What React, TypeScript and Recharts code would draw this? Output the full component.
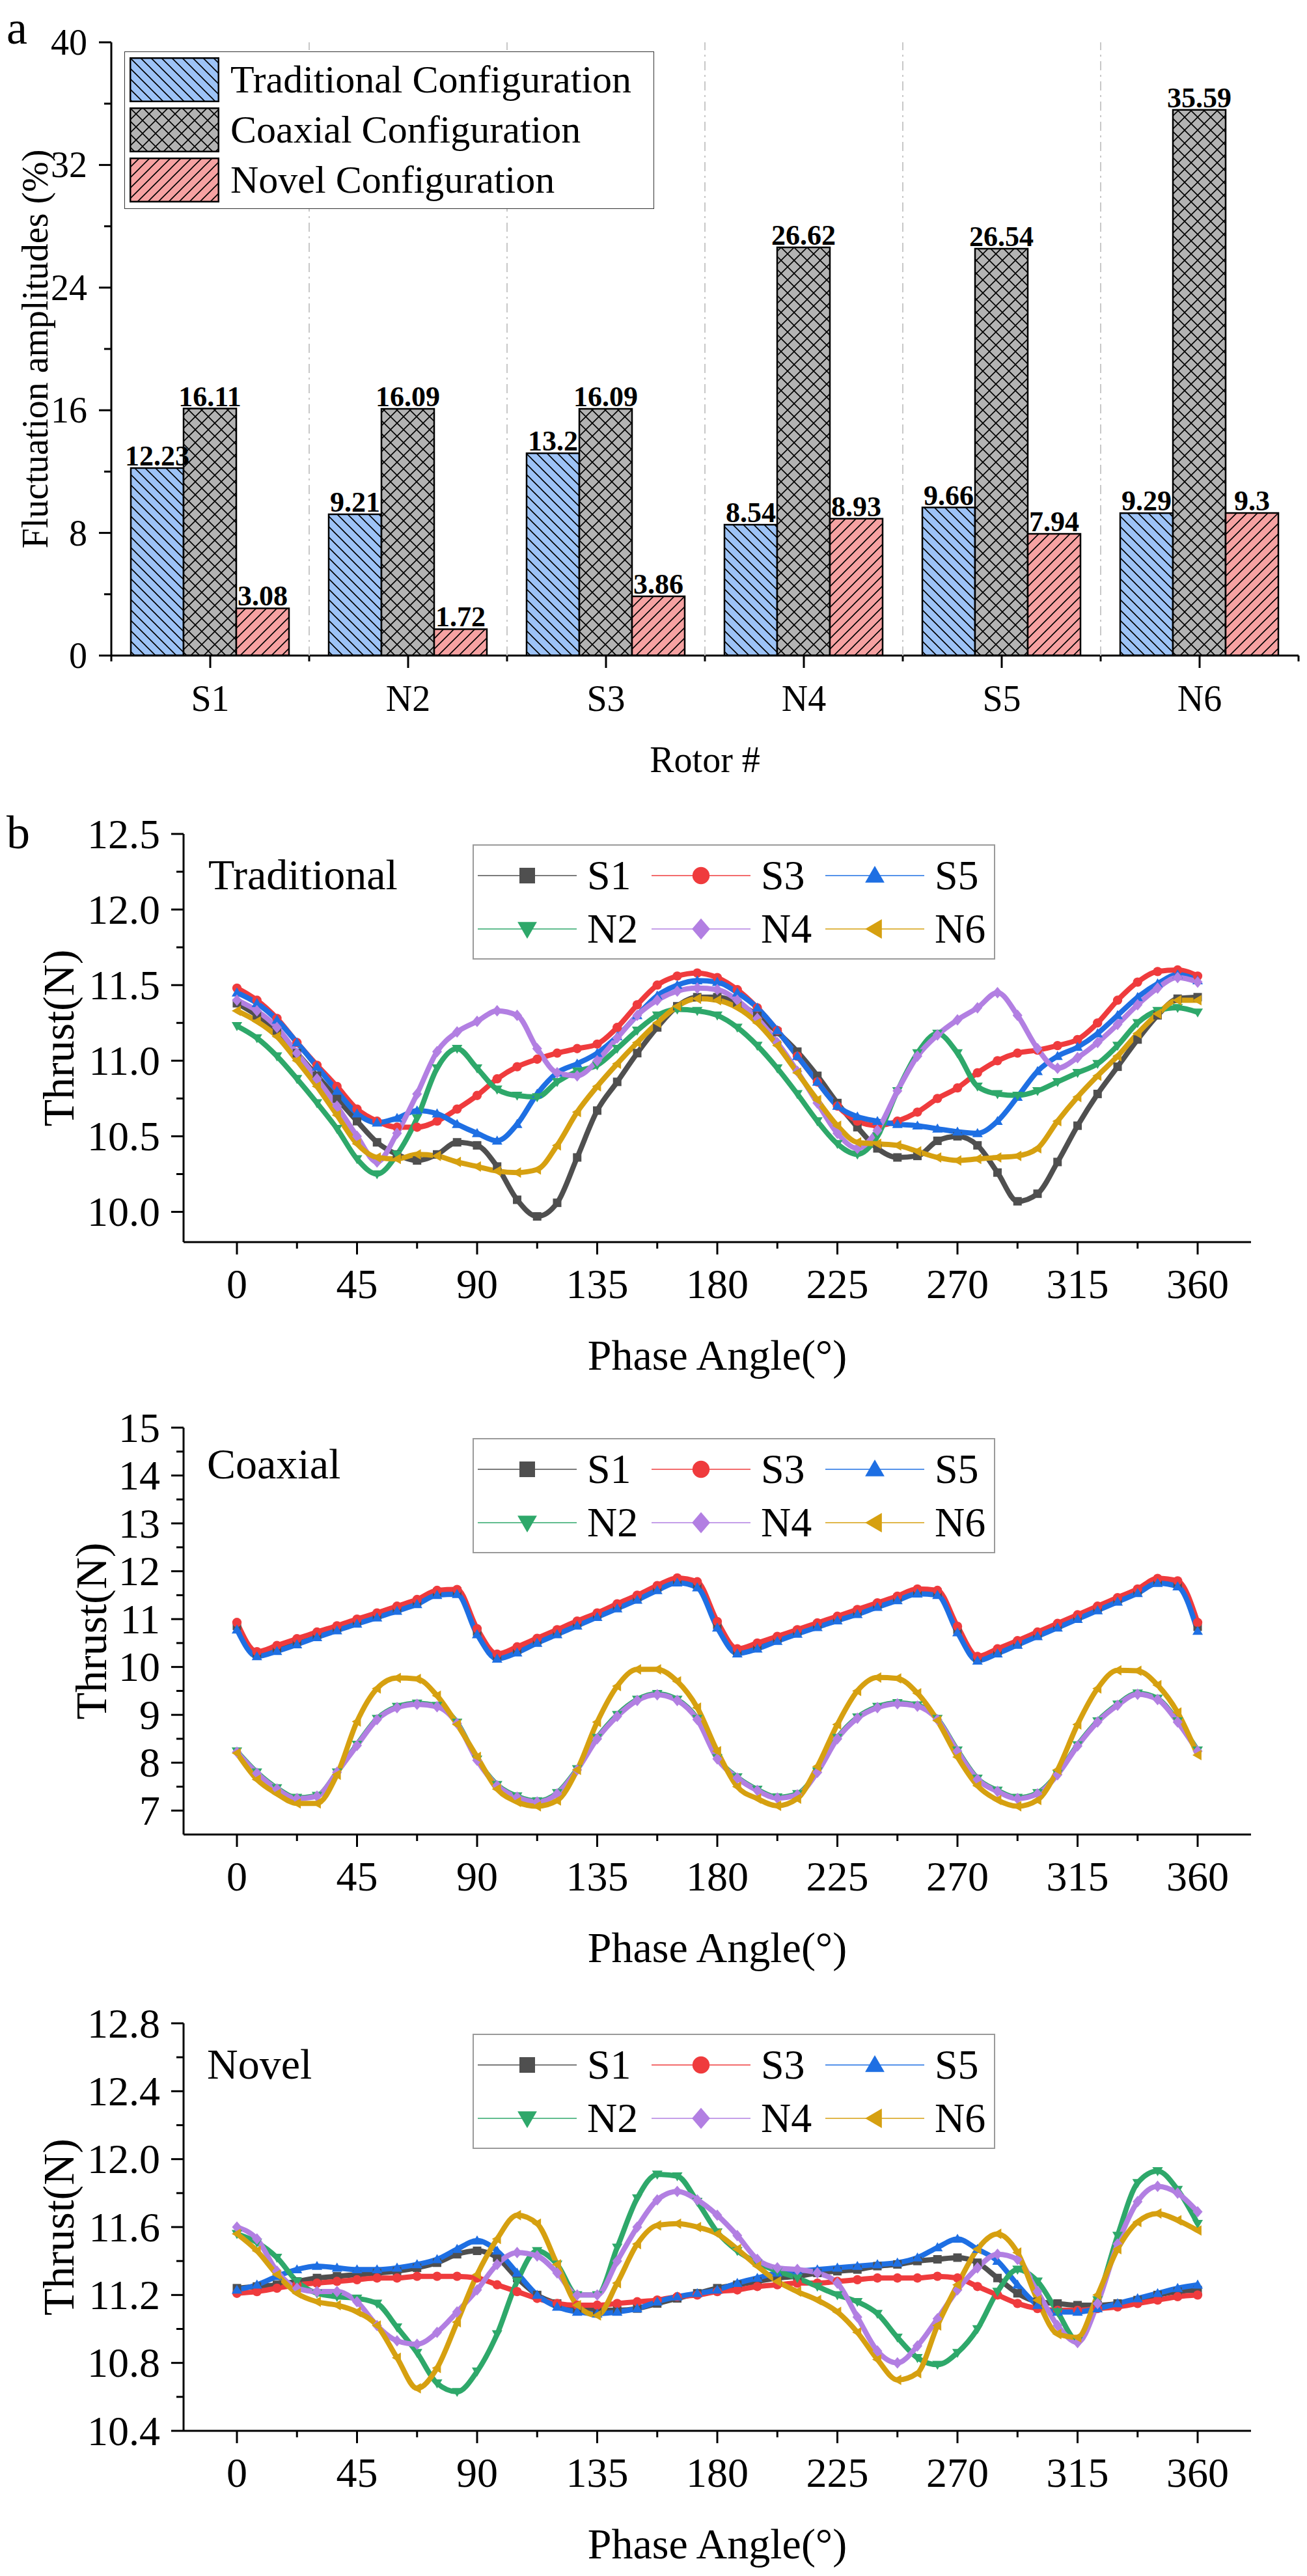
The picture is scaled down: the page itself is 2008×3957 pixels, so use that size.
import React from "react";
import { BarChart, Bar, XAxis, YAxis, LabelList, Legend, LineChart, Line } from "recharts";

const serif = "'Liberation Serif', 'Times New Roman', Times, serif";
const AXIS = { stroke: "#000", strokeWidth: 3 };

// ---------- panel a : fluctuation amplitudes ----------
const rotors = ["S1", "N2", "S3", "N4", "S5", "N6"];
const traditionalAmp = [12.23, 9.21, 13.2, 8.54, 9.66, 9.29];
const coaxialAmp = [16.11, 16.09, 16.09, 26.62, 26.54, 35.59];
const novelAmp = [3.08, 1.72, 3.86, 8.93, 7.94, 9.3];
const ampTicks = [0, 4, 8, 12, 16, 20, 24, 28, 32, 36, 40];

// ---------- panel b : thrust vs phase angle ----------
const phaseAngles = [
  0, 7.5, 15, 22.5, 30, 37.5, 45, 52.5, 60, 67.5, 75, 82.5,
  90, 97.5, 105, 112.5, 120, 127.5, 135, 142.5, 150, 157.5, 165, 172.5,
  180, 187.5, 195, 202.5, 210, 217.5, 225, 232.5, 240, 247.5, 255, 262.5,
  270, 277.5, 285, 292.5, 300, 307.5, 315, 322.5, 330, 337.5, 345, 352.5,
  360,
];
const phaseTicks = [0, 22.5, 45, 67.5, 90, 112.5, 135, 157.5, 180, 202.5, 225, 247.5, 270, 292.5, 315, 337.5, 360];

// Traditional
const tradS1 = [
  11.38, 11.3, 11.2, 11.05, 10.9, 10.75, 10.6, 10.46, 10.38, 10.34, 10.38, 10.46,
  10.44, 10.3, 10.08, 9.97, 10.06, 10.36, 10.67, 10.86, 11.05, 11.22, 11.36, 11.42,
  11.42, 11.38, 11.3, 11.19, 11.06, 10.9, 10.72, 10.56, 10.42, 10.36, 10.37, 10.47,
  10.5, 10.44, 10.26, 10.07, 10.12, 10.33, 10.57, 10.78, 10.96, 11.14, 11.3, 11.41,
  11.42,
];
const tradS3 = [
  11.48, 11.4, 11.28, 11.12, 10.97, 10.83, 10.68, 10.6, 10.56, 10.56, 10.6, 10.68,
  10.77, 10.88, 10.96, 11.01, 11.05, 11.08, 11.11, 11.22, 11.37, 11.5, 11.56, 11.58,
  11.55, 11.47, 11.35, 11.2, 11.03, 10.86, 10.7, 10.6, 10.57, 10.6, 10.66, 10.75,
  10.82, 10.92, 11.0, 11.05, 11.07, 11.1, 11.14, 11.25, 11.4, 11.52, 11.59, 11.6,
  11.56,
];
const tradS5 = [
  11.45, 11.38, 11.27, 11.12, 10.96, 10.8, 10.65, 10.59, 10.62, 10.67, 10.65, 10.58,
  10.52, 10.47, 10.58, 10.78, 10.92, 10.98, 11.05, 11.16, 11.3, 11.43, 11.5, 11.53,
  11.52, 11.45, 11.35, 11.2, 11.03, 10.86, 10.7, 10.63, 10.6, 10.58, 10.57, 10.55,
  10.53, 10.52, 10.6, 10.76, 10.93, 11.03, 11.09, 11.18, 11.3, 11.42, 11.51, 11.57,
  11.53,
];
const tradN2 = [
  11.23, 11.15, 11.03, 10.88, 10.72, 10.55, 10.35, 10.25, 10.38, 10.62, 10.95, 11.08,
  10.95, 10.81, 10.77, 10.76, 10.86, 10.93, 10.97, 11.08, 11.2, 11.3, 11.34, 11.33,
  11.3, 11.22, 11.1, 10.95, 10.78, 10.6, 10.45, 10.38, 10.5, 10.8, 11.05, 11.18,
  11.05, 10.83, 10.78, 10.77, 10.8, 10.86, 10.92, 10.98, 11.1, 11.25, 11.33, 11.35,
  11.32,
];
const tradN4 = [
  11.4, 11.33, 11.22, 11.05, 10.88, 10.7, 10.5, 10.33, 10.52, 10.78, 11.06, 11.19,
  11.26, 11.33, 11.3, 11.08, 10.92, 10.9, 11.0, 11.15, 11.3, 11.4, 11.46, 11.48,
  11.47, 11.4, 11.28, 11.12, 10.93, 10.72, 10.52, 10.42, 10.54, 10.8, 11.03, 11.17,
  11.27, 11.35, 11.45, 11.3, 11.08, 10.95, 11.02, 11.12, 11.24, 11.37, 11.48, 11.55,
  11.52,
];
const tradN6 = [
  11.33, 11.26, 11.16, 11.0, 10.83, 10.64, 10.45, 10.36, 10.35, 10.38, 10.37, 10.33,
  10.3, 10.27, 10.26, 10.28, 10.44, 10.66, 10.83, 10.98, 11.12, 11.25, 11.36, 11.41,
  11.4, 11.35, 11.25, 11.1, 10.92, 10.74, 10.57, 10.46, 10.45, 10.44, 10.4, 10.36,
  10.34, 10.35, 10.36, 10.37, 10.42, 10.6, 10.76, 10.9, 11.03, 11.18, 11.31, 11.4,
  11.4,
];

// Coaxial
const coaxS1 = [
  10.86, 10.27, 10.39, 10.53, 10.67, 10.81, 10.95, 11.08, 11.22, 11.36, 11.56, 11.58,
  10.74, 10.22, 10.36, 10.55, 10.73, 10.91, 11.08, 11.27, 11.45, 11.65, 11.81, 11.72,
  10.88, 10.33, 10.44, 10.59, 10.74, 10.88, 11.01, 11.15, 11.3, 11.44, 11.58, 11.55,
  10.78, 10.18, 10.33, 10.5, 10.68, 10.86, 11.04, 11.22, 11.4, 11.58, 11.8, 11.74,
  10.84,
];
const coaxS3 = [
  10.93, 10.32, 10.45, 10.59, 10.73, 10.86, 11.0, 11.13, 11.27, 11.41, 11.6, 11.62,
  10.8, 10.27, 10.42, 10.6, 10.78, 10.96, 11.13, 11.32, 11.5, 11.7, 11.86, 11.78,
  10.95, 10.38, 10.5, 10.64, 10.78, 10.92, 11.06, 11.2, 11.34, 11.48, 11.63, 11.6,
  10.85, 10.22, 10.38, 10.55, 10.73, 10.91, 11.09, 11.27, 11.45, 11.63, 11.85, 11.8,
  10.93,
];
const coaxS5 = [
  10.78, 10.22, 10.33, 10.47, 10.62, 10.76, 10.9, 11.03, 11.17, 11.31, 11.5, 11.52,
  10.68, 10.17, 10.3, 10.5, 10.68, 10.86, 11.04, 11.22, 11.4, 11.6, 11.76, 11.66,
  10.82, 10.28, 10.38, 10.54, 10.69, 10.83, 10.97, 11.1, 11.25, 11.39, 11.53, 11.5,
  10.72, 10.13, 10.28, 10.46, 10.64, 10.82, 11.0, 11.18, 11.36, 11.54, 11.75, 11.68,
  10.75,
];
const coaxN2 = [
  8.24, 7.8, 7.47, 7.27, 7.31, 7.8, 8.38, 8.92, 9.17, 9.24, 9.19, 8.84,
  8.07, 7.54, 7.3, 7.2, 7.37, 7.87, 8.52, 9.0, 9.32, 9.44, 9.32, 8.92,
  8.1, 7.7, 7.44, 7.28, 7.35, 7.82, 8.52, 8.95, 9.17, 9.25, 9.2, 8.92,
  8.26, 7.67, 7.42, 7.27, 7.37, 7.77, 8.37, 8.87, 9.22, 9.45, 9.34, 8.87,
  8.26,
];
const coaxN4 = [
  8.22, 7.78, 7.45, 7.25, 7.3, 7.8, 8.36, 8.9, 9.15, 9.22, 9.17, 8.82,
  8.05, 7.52, 7.28, 7.18, 7.35, 7.85, 8.5, 8.97, 9.3, 9.42, 9.3, 8.9,
  8.08, 7.68, 7.42, 7.26, 7.33, 7.8, 8.5, 8.93, 9.15, 9.23, 9.18, 8.9,
  8.24, 7.65, 7.4, 7.25, 7.35, 7.75, 8.35, 8.85, 9.2, 9.43, 9.32, 8.85,
  8.24,
];
const coaxN6 = [
  8.2, 7.65, 7.35, 7.15, 7.15, 7.75, 8.86, 9.55, 9.77, 9.75, 9.4, 8.8,
  8.12, 7.45, 7.18, 7.09, 7.21, 7.85, 8.85, 9.6, 9.95, 9.95, 9.7, 9.15,
  8.24, 7.5, 7.25, 7.1, 7.25, 7.92, 8.8, 9.5, 9.78, 9.76, 9.45, 8.88,
  8.12, 7.52, 7.22, 7.09, 7.22, 7.85, 8.8, 9.55, 9.93, 9.92, 9.62, 9.05,
  8.16,
];

// Novel
const novelS1 = [
  11.24, 11.25, 11.26, 11.28, 11.3, 11.31, 11.32, 11.33, 11.34, 11.36, 11.39, 11.44,
  11.46, 11.42, 11.3, 11.2, 11.15, 11.12, 11.11, 11.11, 11.12, 11.15, 11.18, 11.21,
  11.24, 11.26, 11.28, 11.3, 11.31, 11.33, 11.34, 11.35, 11.37, 11.38, 11.4, 11.41,
  11.42, 11.39, 11.3, 11.21, 11.16, 11.15, 11.14, 11.14, 11.15, 11.17, 11.2, 11.22,
  11.23,
];
const novelS3 = [
  11.21, 11.22, 11.24, 11.26, 11.27, 11.28, 11.29, 11.3, 11.3, 11.31, 11.31, 11.31,
  11.3, 11.26, 11.22, 11.18, 11.15, 11.14, 11.14, 11.15, 11.16, 11.17, 11.19, 11.2,
  11.22, 11.23, 11.25, 11.26, 11.27, 11.27, 11.28, 11.29, 11.3, 11.3, 11.3, 11.31,
  11.3, 11.25, 11.2, 11.15, 11.12, 11.11, 11.11, 11.12, 11.13, 11.15, 11.17, 11.19,
  11.2,
];
const novelS5 = [
  11.23, 11.26, 11.31, 11.35, 11.37, 11.36, 11.35, 11.35, 11.36, 11.38, 11.41, 11.47,
  11.52, 11.46, 11.33, 11.2, 11.13, 11.1, 11.09, 11.1, 11.12, 11.16, 11.19, 11.21,
  11.23, 11.27, 11.3, 11.33, 11.34, 11.35, 11.36, 11.37, 11.38, 11.39, 11.42, 11.48,
  11.53, 11.47, 11.4, 11.26, 11.14, 11.1, 11.1, 11.12, 11.15, 11.18, 11.21, 11.24,
  11.26,
];
const novelN2 = [
  11.56, 11.51, 11.42, 11.28, 11.21, 11.19, 11.18, 11.15, 11.01, 10.86, 10.68, 10.63,
  10.75, 10.97, 11.28, 11.46, 11.38, 11.2, 11.2, 11.48, 11.77, 11.91, 11.9, 11.75,
  11.57, 11.46, 11.39, 11.34, 11.3, 11.25, 11.2, 11.16, 11.09, 10.95, 10.83, 10.79,
  10.86, 11.0, 11.22, 11.35, 11.28, 11.1, 10.93, 11.17, 11.55, 11.86, 11.93, 11.82,
  11.62,
];
const novelN4 = [
  11.6, 11.53, 11.34, 11.24, 11.22, 11.22, 11.16, 11.02, 10.93, 10.91, 10.98, 11.1,
  11.23, 11.38, 11.45, 11.43, 11.33, 11.2, 11.2, 11.4, 11.6, 11.76, 11.81, 11.76,
  11.67, 11.55, 11.41, 11.36, 11.35, 11.33, 11.27, 11.07, 10.87, 10.8, 10.9, 11.06,
  11.23, 11.36, 11.44, 11.41, 11.22, 11.02, 10.92, 11.15, 11.5, 11.75, 11.84, 11.8,
  11.69,
];
const novelN6 = [
  11.56, 11.46, 11.32, 11.21, 11.16, 11.14, 11.1, 11.02, 10.83, 10.65, 10.77, 11.04,
  11.32, 11.53, 11.67, 11.62, 11.38, 11.14, 11.08, 11.27, 11.5, 11.61, 11.62, 11.6,
  11.56, 11.47, 11.37, 11.28, 11.22, 11.17, 11.1, 10.98, 10.82, 10.7, 10.74, 11.02,
  11.26, 11.47, 11.56, 11.45, 11.17, 10.97, 10.95, 11.2, 11.47, 11.63, 11.68, 11.64,
  11.58,
];

const seriesDefs = [
  { key: "S1", color: "#4f4f4f", shape: "square" },
  { key: "S3", color: "#ef3b3d", shape: "circle" },
  { key: "S5", color: "#1e6fe3", shape: "up" },
  { key: "N2", color: "#2ea86a", shape: "down" },
  { key: "N4", color: "#b27fe2", shape: "diamond" },
  { key: "N6", color: "#d6a010", shape: "left" },
];

const barData = rotors.map((r, i) => ({
  rotor: r,
  traditional: traditionalAmp[i],
  coaxial: coaxialAmp[i],
  novel: novelAmp[i],
}));

const buildRows = (s1: number[], s3: number[], s5: number[], n2: number[], n4: number[], n6: number[]) =>
  phaseAngles.map((a, i) => ({ angle: a, S1: s1[i], S3: s3[i], S5: s5[i], N2: n2[i], N4: n4[i], N6: n6[i] }));

const tradRows = buildRows(tradS1, tradS3, tradS5, tradN2, tradN4, tradN6);
const coaxRows = buildRows(coaxS1, coaxS3, coaxS5, coaxN2, coaxN4, coaxN6);
const novelRows = buildRows(novelS1, novelS3, novelS5, novelN2, novelN4, novelN6);

// ---------- shared bits ----------
const Marker = ({ cx, cy, shape, color, size }: any) => {
  const s = size;
  if (cx == null || cy == null) return null;
  switch (shape) {
    case "square":
      return <rect x={cx - s / 2} y={cy - s / 2} width={s} height={s} fill={color} />;
    case "circle":
      return <circle cx={cx} cy={cy} r={s * 0.55} fill={color} />;
    case "up":
      return <polygon points={`${cx},${cy - s * 0.62} ${cx - s * 0.62},${cy + s * 0.45} ${cx + s * 0.62},${cy + s * 0.45}`} fill={color} />;
    case "down":
      return <polygon points={`${cx},${cy + s * 0.62} ${cx - s * 0.62},${cy - s * 0.45} ${cx + s * 0.62},${cy - s * 0.45}`} fill={color} />;
    case "diamond":
      return <polygon points={`${cx},${cy - s * 0.68} ${cx + s * 0.58},${cy} ${cx},${cy + s * 0.68} ${cx - s * 0.58},${cy}`} fill={color} />;
    default:
      return <polygon points={`${cx - s * 0.62},${cy} ${cx + s * 0.45},${cy - s * 0.62} ${cx + s * 0.45},${cy + s * 0.62}`} fill={color} />;
  }
};

function YTitle(props: any) {
  const { viewBox, text, centerX, fontSize } = props;
  const cy = viewBox ? viewBox.y + viewBox.height / 2 : 0;
  return (
    <text x={centerX} y={cy} transform={`rotate(-90, ${centerX}, ${cy})`} textAnchor="middle"
      dominantBaseline="central" fontSize={fontSize} fontFamily={serif} fill="#000">
      {text}
    </text>
  );
}

function XTitle(props: any) {
  const { viewBox, text, dy, fontSize } = props;
  const x = viewBox ? viewBox.x + viewBox.width / 2 : 0;
  const y = viewBox ? viewBox.y + dy : 0;
  return (
    <text x={x} y={y} textAnchor="middle" fontSize={fontSize} fontFamily={serif} fill="#000">
      {text}
    </text>
  );
}

// ---------- panel a ----------
const AMP_PLOT_H = 942;

function RotorTick(props: any) {
  const { x, y, payload, index } = props;
  const half = payload && payload.offset ? payload.offset : 152;
  const left = x - half;
  const right = x + half;
  return (
    <g>
      {index > 0 && (
        <line x1={left} x2={left} y1={y} y2={y - AMP_PLOT_H} stroke="#c8c8c8" strokeWidth={2} strokeDasharray="14 7 3 7" />
      )}
      <line x1={left} x2={left} y1={y} y2={y + 9} stroke="#000" strokeWidth={3} />
      {index === rotors.length - 1 && <line x1={right} x2={right} y1={y} y2={y + 9} stroke="#000" strokeWidth={3} />}
      <line x1={x} x2={x} y1={y} y2={y + 19} stroke="#000" strokeWidth={3} />
      <text x={x} y={y + 85} textAnchor="middle" fontSize={56} fontFamily={serif} fill="#000">
        {payload.value}
      </text>
    </g>
  );
}

function AmpTick(props: any) {
  const { x, y, payload } = props;
  const v = payload.value;
  const major = v % 8 === 0;
  return (
    <g>
      <line x1={x} x2={x - (major ? 19 : 11)} y1={y} y2={y} stroke="#000" strokeWidth={3} />
      {major && (
        <text x={x - 37} y={y} textAnchor="end" dominantBaseline="central" fontSize={56} fontFamily={serif} fill="#000">
          {v}
        </text>
      )}
    </g>
  );
}

const barLegendRows = [
  { label: "Traditional Configuration", fill: "#9dc3f6", kind: "back" },
  { label: "Coaxial Configuration", fill: "#b3b3b3", kind: "cross" },
  { label: "Novel Configuration", fill: "#f6a2a2", kind: "fwd" },
];

const hatchPath = (kind: string, w: number) => {
  const back = `M-4,-4 L${w + 4},${w + 4} M-4,${w - 4} L4,${w + 4} M${w - 4},-4 L${w + 4},4`;
  const fwd = `M-4,${w + 4} L${w + 4},-4 M-4,4 L4,-4 M${w - 4},${w + 4} L${w + 4},${w - 4}`;
  if (kind === "back") return back;
  if (kind === "fwd") return fwd;
  return back + " " + fwd;
};

const HatchPattern = ({ id, fill, kind }: any) => {
  const w = kind === "cross" ? 20 : 16;
  return (
    <pattern id={id} patternUnits="userSpaceOnUse" width={w} height={w}>
      <rect width={w} height={w} fill={fill} />
      <path d={hatchPath(kind, w)} stroke="#000" strokeWidth={1.6} />
    </pattern>
  );
};

function BarLegend() {
  return (
    <div style={{ width: 814, height: 242, boxSizing: "border-box", border: "1.5px solid #333", background: "#fff", position: "relative", fontFamily: serif }}>
      {barLegendRows.map((r, i) => (
        <div key={r.label} style={{ position: "absolute", left: 7, top: 8 + i * 77, height: 69, display: "flex", alignItems: "center" }}>
          <svg width={138} height={69} style={{ display: "block" }}>
            <defs>
              <HatchPattern id={`lg-${r.kind}`} fill={r.fill} kind={r.kind} />
            </defs>
            <rect x={1.25} y={1.25} width={135.5} height={66.5} fill={`url(#lg-${r.kind})`} stroke="#000" strokeWidth={2.5} />
          </svg>
          <span style={{ marginLeft: 17, fontSize: 60, lineHeight: "69px", whiteSpace: "nowrap", color: "#000" }}>{r.label}</span>
        </div>
      ))}
    </div>
  );
}

const barLabel = { fill: "#000", fontSize: 44, fontWeight: "bold", fontFamily: serif };

function AmplitudeChart() {
  return (
    <BarChart width={2008} height={1200} data={barData} margin={{ top: 65, right: 13, left: 0, bottom: 0 }} barCategoryGap={30} barGap={0}>
      <defs>
        <HatchPattern id="hatchTrad" fill="#9dc3f6" kind="back" />
        <HatchPattern id="hatchCoax" fill="#b3b3b3" kind="cross" />
        <HatchPattern id="hatchNovel" fill="#f6a2a2" kind="fwd" />
      </defs>
      <XAxis dataKey="rotor" height={193} interval={0} tickSize={0} tickMargin={0} tickLine={false} axisLine={AXIS}
        tick={<RotorTick />} label={<XTitle text="Rotor #" dy={179} fontSize={56} />} />
      <XAxis xAxisId="top" dataKey="rotor" orientation="top" height={0} tick={false} tickLine={false} axisLine={AXIS} />
      <YAxis width={171} domain={[0, 40]} ticks={ampTicks} interval={0} allowDataOverflow tickSize={0} tickMargin={0}
        tickLine={false} axisLine={AXIS} tick={<AmpTick />}
        label={<YTitle text="Fluctuation amplitudes (%)" centerX={54} fontSize={56} />} />
      <YAxis yAxisId="right" orientation="right" width={0} domain={[0, 40]} tick={false} tickLine={false} axisLine={AXIS} />
      <Legend layout="vertical" align="center" verticalAlign="middle" content={() => <BarLegend />}
        wrapperStyle={{ left: 191, top: 79, width: 814, height: 242 }} />
      <Bar dataKey="traditional" name="Traditional Configuration" fill="url(#hatchTrad)" stroke="#000" strokeWidth={2.5} isAnimationActive={false}>
        <LabelList dataKey="traditional" position="top" offset={4} {...barLabel} />
      </Bar>
      <Bar dataKey="coaxial" name="Coaxial Configuration" fill="url(#hatchCoax)" stroke="#000" strokeWidth={2.5} isAnimationActive={false}>
        <LabelList dataKey="coaxial" position="top" offset={4} {...barLabel} />
      </Bar>
      <Bar dataKey="novel" name="Novel Configuration" fill="url(#hatchNovel)" stroke="#000" strokeWidth={2.5} isAnimationActive={false}>
        <LabelList dataKey="novel" position="top" offset={4} {...barLabel} />
      </Bar>
    </BarChart>
  );
}

// ---------- panel b ----------
function PhaseTick(props: any) {
  const { x, y, payload } = props;
  const v = payload.value;
  const major = v % 45 === 0;
  return (
    <g>
      <line x1={x} x2={x} y1={y} y2={y + (major ? 19 : 10)} stroke="#000" strokeWidth={3} />
      {major && (
        <text x={x} y={y + 86} textAnchor="middle" fontSize={64} fontFamily={serif} fill="#000">
          {v}
        </text>
      )}
    </g>
  );
}

const makeThrustTick = (step: number, digits: number) => (props: any) => {
  const { x, y, payload } = props;
  const v = payload.value;
  const r = v / step;
  const major = Math.abs(r - Math.round(r)) < 1e-6;
  return (
    <g>
      <line x1={x} x2={x - (major ? 19 : 11)} y1={y} y2={y} stroke="#000" strokeWidth={3} />
      {major && (
        <text x={x - 36} y={y} textAnchor="end" dominantBaseline="central" fontSize={64} fontFamily={serif} fill="#000">
          {v.toFixed(digits)}
        </text>
      )}
    </g>
  );
};

function ThrustLegend() {
  return (
    <div style={{ width: 803, height: 177, boxSizing: "border-box", border: "2px solid #9a9a9a", background: "#fff", position: "relative", fontFamily: serif }}>
      {seriesDefs.map((s, i) => {
        const col = i % 3;
        const row = Math.floor(i / 3);
        return (
          <div key={s.key} style={{ position: "absolute", left: 6 + col * 267, top: 46 + row * 82 - 40, height: 80, display: "flex", alignItems: "center" }}>
            <svg width={152} height={40} style={{ display: "block" }}>
              <line x1={0} x2={152} y1={20} y2={20} stroke={s.color} strokeWidth={2} opacity={0.75} />
              <Marker cx={76} cy={20} shape={s.shape} color={s.color} size={24} />
            </svg>
            <span style={{ marginLeft: 16, fontSize: 64, lineHeight: "80px", color: "#000" }}>{s.key}</span>
          </div>
        );
      })}
    </div>
  );
}

function ThrustPanel({ rows, plotH, domain, ticks, step, digits, titleX }: any) {
  const YTick = makeThrustTick(step, digits);
  return (
    <LineChart width={2008} height={40 + plotH + 215} data={rows} margin={{ top: 40, right: 86, left: 0, bottom: 0 }}>
      <XAxis dataKey="angle" type="number" domain={[-20, 380]} ticks={phaseTicks} interval={0} allowDataOverflow height={215}
        tickSize={0} tickMargin={0} tickLine={false} axisLine={AXIS} tick={<PhaseTick />}
        label={<XTitle text="Phase Angle(°)" dy={196} fontSize={66} />} />
      <XAxis xAxisId="top" type="number" orientation="top" domain={[-20, 380]} height={0} tick={false} tickLine={false} axisLine={AXIS} />
      <YAxis type="number" width={282} domain={domain} ticks={ticks} interval={0} allowDataOverflow tickSize={0} tickMargin={0}
        tickLine={false} axisLine={AXIS} tick={<YTick />}
        label={<YTitle text="Thrust(N)" centerX={titleX} fontSize={68} />} />
      <YAxis yAxisId="right" type="number" orientation="right" width={0} domain={domain} tick={false} tickLine={false} axisLine={AXIS} />
      <Legend layout="vertical" align="center" verticalAlign="middle" content={() => <ThrustLegend />}
        wrapperStyle={{ left: 726, top: 56, width: 803, height: 177 }} />
      {seriesDefs.map((s) => (
        <Line key={s.key} type="monotone" dataKey={s.key} name={s.key} stroke={s.color} strokeWidth={8}
          isAnimationActive={false} activeDot={false}
          dot={(p: any) => <Marker key={`${s.key}-${p.index}`} cx={p.cx} cy={p.cy} shape={s.shape} color={s.color} size={13} />} />
      ))}
    </LineChart>
  );
}

const tradTicks = [10, 10.25, 10.5, 10.75, 11, 11.25, 11.5, 11.75, 12, 12.25, 12.5];
const coaxTicks = [7, 7.5, 8, 8.5, 9, 9.5, 10, 10.5, 11, 11.5, 12, 12.5, 13, 13.5, 14, 14.5, 15];
const novelTicks = [10.4, 10.6, 10.8, 11, 11.2, 11.4, 11.6, 11.8, 12, 12.2, 12.4, 12.6, 12.8];

export default function App() {
  return (
    <div style={{ position: "absolute", left: 0, top: 0, width: 2008, height: 3957, background: "#fff", fontFamily: serif }}>
      <div style={{ position: "absolute", left: 0, top: 0 }}>
        <AmplitudeChart />
      </div>
      <div style={{ position: "absolute", left: 0, top: 1241 }}>
        <ThrustPanel rows={tradRows} plotH={627} domain={[9.8, 12.5]} ticks={tradTicks} step={0.5} digits={1} titleX={90} />
      </div>
      <div style={{ position: "absolute", left: 0, top: 2153 }}>
        <ThrustPanel rows={coaxRows} plotH={625} domain={[6.5, 15]} ticks={coaxTicks} step={1} digits={0} titleX={140} />
      </div>
      <div style={{ position: "absolute", left: 0, top: 3068 }}>
        <ThrustPanel rows={novelRows} plotH={626} domain={[10.4, 12.8]} ticks={novelTicks} step={0.4} digits={1} titleX={90} />
      </div>
      <svg width={2008} height={3957} style={{ position: "absolute", left: 0, top: 0, pointerEvents: "none" }}>
        <g fontFamily={serif} fill="#000">
          <text x={10} y={67} fontSize={72}>a</text>
          <text x={10} y={1303} fontSize={72}>b</text>
          <text x={320} y={1366} fontSize={66}>Traditional</text>
          <text x={318} y={2271} fontSize={66}>Coaxial</text>
          <text x={318} y={3193} fontSize={66}>Novel</text>
        </g>
      </svg>
    </div>
  );
}
